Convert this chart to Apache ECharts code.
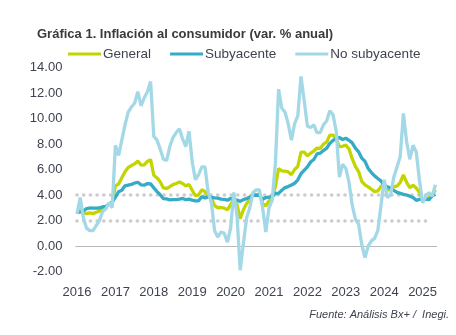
<!DOCTYPE html>
<html>
<head>
<meta charset="utf-8">
<script src="https://cdn.jsdelivr.net/npm/echarts@6/dist/echarts.min.js"></script>
<style>
html,body{margin:0;padding:0;background:#fff;}
#chart{width:456px;height:335px;}
</style>
</head>
<body>
<div id="chart"></div>
<script>
// ---- data (annual % change, monthly, Jan 2016 - May 2025) ----
const startYear = 2016, startMonth = 1, endYear = 2025, endMonth = 5;

const general = [
  2.61, 2.87, 2.60, 2.54, 2.60, 2.54, 2.65, 2.73, 2.97, 3.06, 3.31, 3.36,
  4.72, 4.86, 5.35, 5.82, 6.16, 6.31, 6.44, 6.66, 6.35, 6.37, 6.63, 6.77,
  5.55, 5.34, 5.04, 4.55, 4.51, 4.65, 4.81, 4.90, 5.02, 4.90, 4.72, 4.83,
  4.37, 3.94, 4.00, 4.41, 4.28, 3.95, 3.78, 3.16, 3.00, 3.02, 2.97, 2.83,
  3.24, 3.70, 3.25, 2.15, 2.84, 3.33, 3.62, 4.05, 4.01, 4.09, 3.33, 3.15,
  3.54, 3.76, 4.67, 6.08, 5.89, 5.88, 5.81, 5.59, 6.00, 6.24, 7.37, 7.36,
  7.07, 7.28, 7.45, 7.68, 7.65, 7.99, 8.15, 8.70, 8.70, 8.41, 7.80, 7.82,
  7.91, 7.62, 6.85, 6.25, 5.84, 5.06, 4.79, 4.64, 4.45, 4.26, 4.32, 4.66,
  4.88, 4.40, 4.42, 4.65, 4.69, 4.98, 5.57, 4.99, 4.58, 4.76, 4.55, 4.21,
  3.59, 3.77, 3.80, 3.93, 4.42
];

const subyacente = [
  2.64, 2.66, 2.76, 2.93, 2.98, 2.97, 2.97, 2.98, 3.07, 3.10, 3.29, 3.44,
  3.84, 4.26, 4.37, 4.72, 4.78, 4.83, 4.94, 5.00, 4.80, 4.77, 4.90, 4.87,
  4.56, 4.27, 4.02, 3.71, 3.69, 3.62, 3.63, 3.63, 3.67, 3.73, 3.63, 3.68,
  3.60, 3.54, 3.55, 3.87, 3.77, 3.85, 3.82, 3.78, 3.75, 3.68, 3.65, 3.59,
  3.73, 3.66, 3.60, 3.50, 3.64, 3.71, 3.85, 3.97, 3.99, 3.98, 3.66, 3.80,
  3.84, 3.87, 4.12, 4.13, 4.37, 4.58, 4.66, 4.78, 4.92, 5.19, 5.67, 5.94,
  6.21, 6.59, 6.78, 7.22, 7.28, 7.49, 7.65, 8.05, 8.28, 8.42, 8.51, 8.35,
  8.45, 8.29, 8.09, 7.67, 7.39, 6.89, 6.64, 6.08, 5.76, 5.50, 5.30, 5.09,
  4.76, 4.64, 4.55, 4.37, 4.21, 4.13, 4.05, 4.00, 3.91, 3.80, 3.58, 3.65,
  3.66, 3.65, 3.64, 3.93, 4.06
];

const noSubyacente = [
  2.5, 3.8, 2.2, 1.4, 1.2, 1.2, 1.6, 2.0, 2.7, 2.9, 3.4, 3.0,
  7.9, 7.1, 8.3, 9.5, 10.5, 10.9, 11.2, 12.1, 11.0, 11.6, 12.1, 12.9,
  8.6, 8.3, 7.6, 6.8, 6.7, 7.8, 8.5, 8.9, 9.2, 8.4, 7.8, 9.0,
  6.6, 5.2, 5.6, 6.2, 6.2, 4.2, 3.4, 1.2, 0.7, 1.1, 1.0, 0.3,
  1.4, 4.2, 2.4, -1.9, 0.2, 2.2, 3.0, 4.2, 4.4, 4.4, 3.0, 1.1,
  3.0, 3.6, 6.5, 12.3, 10.8, 10.5, 9.6, 8.3, 9.6, 10.2, 13.3, 11.4,
  9.4, 9.3, 9.5, 8.9, 8.9, 9.5, 9.8, 10.6, 10.3, 9.0, 5.4, 6.4,
  6.1, 5.0, 3.2, 2.1, 1.7, 0.1, -0.9, 0.0, 0.4, 0.6, 1.2, 3.2,
  5.2, 3.8, 4.0, 5.4, 6.2, 7.0, 10.4, 8.2, 6.8, 7.9, 7.4, 5.2,
  3.4, 3.9, 4.2, 3.9, 4.8
];

const seriesNames = ['General', 'Subyacente', 'No subyacente'];
const yTicks = [-2, 0, 2, 4, 6, 8, 10, 12, 14];
const zeroLevel = 0;                // horizontal axis line
const targetBand = [2, 4];          // Banxico target range (dotted lines)
const targetBandEnd = '2025-03';    // last month the dotted lines reach
const titleText = 'Gráfica 1. Inflación al consumidor (var. % anual)';
const sourceText = 'Fuente: Análisis Bx+ /  Inegi.';

// month categories
const months = [];
for (let y = startYear; y <= endYear; y++) {
  for (let m = (y === startYear ? startMonth : 1); m <= (y === endYear ? endMonth : 12); m++) {
    months.push(y + '-' + (m < 10 ? '0' + m : m));
  }
}

const colors = ['#c3d500', '#35abc6', '#a3d8e6'];
const textColor = '#3f4350';
const font = 'Liberation Sans';

const chart = echarts.init(document.getElementById('chart'), null, {renderer: 'canvas'});

const bandLines = targetBand.map(v => [
  {coord: [months[0], v]},
  {coord: [targetBandEnd, v]}
]);

chart.setOption({
  animation: false,
  backgroundColor: '#ffffff',
  title: {
    text: titleText,
    left: 37, top: 28, padding: 0,
    textStyle: {fontFamily: font, fontSize: 13, fontWeight: 'bold', color: '#3a3a3a'}
  },
  legend: {
    left: 68, top: 47, padding: 0,
    itemWidth: 33, itemHeight: 3, itemGap: 19,
    icon: 'rect',
    textStyle: {fontFamily: font, fontSize: 13.5, color: textColor, padding: [0, 0, 0, -3]},
    data: seriesNames
  },
  graphic: [{
    type: 'text',
    right: 7, top: 309,
    style: {text: sourceText, font: 'italic 11px "' + font + '"', fill: textColor}
  }],
  grid: {left: 75.4, right: 19, top: 67.5, bottom: 63.5, containLabel: false},
  xAxis: {
    type: 'category',
    data: months,
    boundaryGap: true,
    axisLine: {show: false, onZero: false},
    axisTick: {show: false},
    splitLine: {show: false},
    axisLabel: {
      interval: (idx) => idx % 12 === 0,
      formatter: (v) => v.slice(0, 4),
      fontFamily: font, fontSize: 13, color: textColor, margin: 14
    }
  },
  yAxis: {
    type: 'value',
    min: yTicks[0], max: yTicks[yTicks.length - 1], interval: 2,
    axisLine: {show: false},
    axisTick: {show: false},
    splitLine: {show: false},
    axisLabel: {
      formatter: (v) => v.toFixed(2),
      fontFamily: font, fontSize: 13, color: textColor, margin: 13
    }
  },
  series: [
    {
      name: seriesNames[0], type: 'line', data: general, color: colors[0],
      showSymbol: false, symbol: 'none', lineStyle: {width: 3.3, color: colors[0]}, z: 3,
      markLine: {
        silent: true, symbol: ['none', 'none'], label: {show: false}, z: 1,
        data: bandLines,
        lineStyle: {type: [0.1, 6.6], cap: 'round', width: 3.6, color: '#cdcdcd'}
      }
    },
    {
      name: seriesNames[1], type: 'line', data: subyacente, color: colors[1],
      showSymbol: false, symbol: 'none', lineStyle: {width: 3.3, color: colors[1]}, z: 4
    },
    {
      name: seriesNames[2], type: 'line', data: noSubyacente, color: colors[2],
      showSymbol: false, symbol: 'none', lineStyle: {width: 3.3, color: colors[2]}, z: 5,
      markLine: {
        silent: true, symbol: ['none', 'none'], label: {show: false}, z: 1,
        data: [{yAxis: zeroLevel}],
        lineStyle: {type: 'solid', width: 1, color: '#b8b8b8'}
      }
    }
  ]
});
</script>
</body>
</html>
